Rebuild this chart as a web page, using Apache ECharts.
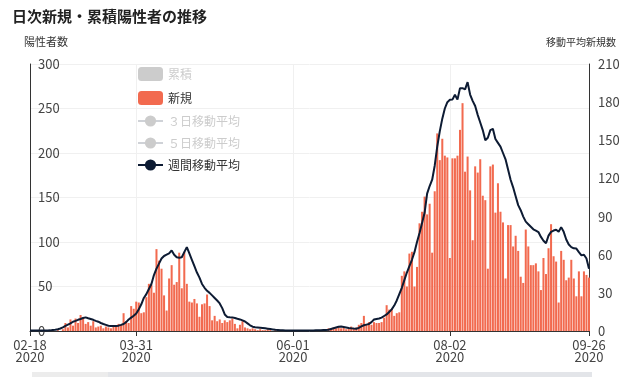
<!DOCTYPE html>
<html>
<head>
<meta charset="utf-8">
<script src="https://cdn.jsdelivr.net/npm/echarts@6/dist/echarts.min.js"></script>
<style>
  html, body { margin: 0; padding: 0; background: #fff; }
  #chart { width: 641px; height: 377px; }
</style>
</head>
<body>
<div id="chart"></div>
<script>
// 日次新規・累積陽性者の推移 (2020-02-18 〜 2020-09-26)
const startDate = '2020-02-18';
const dayCount = 222;
const labelDates = ['2020-02-18', '2020-03-31', '2020-06-01', '2020-08-02', '2020-09-26'];

const leftTicks = [0, 300, 50];   // min, max, interval
const rightTicks = [0, 210, 30];

// 新規 (left axis)
const newCases = [
  0, 0, 0, 0, 0, 0, 0, 0, 0, 1, 0, 1, 0,
  2, 9, 4, 13, 6, 14, 9, 18, 15, 8,
  10, 6, 11, 4, 5, 6, 3, 5, 4, 3,
  5, 6, 8, 7, 20, 11, 9, 28, 25, 33,
  32, 20, 21, 38, 53, 52, 43, 92, 79, 70,
  40, 23, 59, 74, 52, 55, 88, 48, 89, 53,
  33, 32, 36, 31, 16, 30, 31, 41, 28, 12,
  17, 11, 13, 9, 12, 10, 12, 14, 8, 3,
  7, 11, 4, 3, 2, 3, 2, 1, 2, 1,
  1, 2, 1, 0, 1, 0, 0, 1, 0, 0,
  0, 1, 0, 0, 0, 1, 0, 0, 0, 0,
  1, 0, 0, 1, 0, 3, 2, 4, 3, 4,
  3, 4, 2, 3, 5, 3, 4, 7, 9, 17,
  7, 10, 7, 10, 9, 9, 10, 15, 29, 24,
  25, 17, 20, 21, 62, 67, 50, 87, 89, 50,
  72, 121, 134, 151, 131, 143, 88, 157, 222, 192,
  216, 197, 195, 82, 194, 194, 197, 226, 256, 179,
  196, 158, 102, 185, 178, 193, 152, 147, 70, 185,
  187, 133, 166, 134, 122, 59, 119, 119, 95, 107,
  90, 61, 54, 114, 95, 74, 74, 76, 67, 46,
  82, 64, 93, 120, 84, 78, 32, 90, 80, 57,
  60, 80, 59, 39, 67, 39, 67, 63, 60
];

// 週間移動平均 (right axis)
const weeklyAvg = [
  0.3, 0.3, 0.3, 0.3, 0.3, 0.3, 0.3, 0.4, 0.5, 0.8,
  1.0, 1.4, 2.0, 2.8, 4.0, 5.0, 6.0, 7.3, 8.0, 8.8,
  9.4, 10.2, 10.7, 10.0, 9.4, 8.8, 8.0, 7.3, 6.3, 5.5,
  4.8, 4.1, 3.9, 3.9, 3.9, 4.2, 4.8, 5.5, 7.0, 9.0,
  10.5, 12.0, 13.8, 17, 21, 26, 29, 33, 37, 44,
  49, 53, 57, 59, 60, 61, 63.4, 60, 58, 57.7,
  58, 62, 66, 61, 56, 51, 46, 42, 37, 34,
  31.6, 30, 28, 26, 24, 21.7, 18, 13, 11, 10.8,
  10.7, 10.2, 9.6, 9.1, 8.3, 7.5, 6, 4.5, 3.4, 3,
  2.8, 2.6, 2.4, 2.1, 1.8, 1.5, 1.2, 0.9, 0.8, 0.6,
  0.5, 0.4, 0.4, 0.4, 0.4, 0.4, 0.4, 0.4, 0.4, 0.4,
  0.4, 0.4, 0.4, 0.5, 0.5, 0.6, 0.7, 0.8, 1.0, 1.6,
  2.2, 2.8, 3.4, 3.6, 3.2, 2.8, 2.4, 2.1, 1.9, 1.8,
  2.5, 3.6, 4.5, 5.0, 5.5, 7.0, 9.0, 9.5, 9.8, 10.5,
  11.8, 13, 15, 17, 20, 24, 29, 34, 40, 46,
  51, 56, 62, 70, 77, 85, 93, 108, 114, 119,
  130, 145, 157, 167, 175, 180, 181.8, 182, 185.8, 182,
  191, 191, 190, 195.7, 186, 181, 177, 170, 164, 158,
  150, 152, 158, 159, 151, 148, 145, 140, 135, 127,
  119, 113, 106, 99, 95, 90, 86, 84, 82, 80,
  79, 77.8, 74, 71, 69, 75, 78, 79, 79.6, 78,
  81.7, 78, 72, 68, 66, 65, 64.8, 62, 59.5, 60,
  57, 49
];

const legendNames = ['累積', '新規', '３日移動平均', '５日移動平均', '週間移動平均'];

const colors = {
  bar: '#f26a4f',
  line: '#0d1b33',
  ink: '#222',
  label: '#444',
  axis: '#333',
  grid: '#f0f0f0'
};

function buildDates() {
  const out = [];
  const d = new Date(startDate + 'T00:00:00Z');
  for (let i = 0; i < dayCount; i++) {
    out.push(d.toISOString().slice(0, 10));
    d.setUTCDate(d.getUTCDate() + 1);
  }
  return out;
}

const dates = buildDates();
const showAt = (index, value) => labelDates.indexOf(dates[index]) !== -1;

const chart = echarts.init(document.getElementById('chart'), null, { renderer: 'canvas' });

chart.setOption({
  animation: false,
  textStyle: { fontFamily: '"Noto Sans CJK JP", "Noto Sans", sans-serif' },
  title: [
    {
      text: '日次新規・累積陽性者の推移',
      left: 12, top: 9, padding: 0,
      textStyle: { fontSize: 15, fontWeight: 'bold', color: colors.ink }
    },
    {
      text: '陽性者数',
      left: 24, top: 36, padding: 0,
      textStyle: { fontSize: 11, fontWeight: 'normal', color: colors.axis }
    },
    {
      text: '移動平均新規数',
      left: 546, top: 37, padding: 0,
      textStyle: { fontSize: 10, fontWeight: 'normal', color: colors.axis }
    }
  ],
  legend: {
    data: legendNames,
    orient: 'vertical',
    left: 137, top: 67, padding: 0,
    itemWidth: 25, itemHeight: 14,
    itemGap: 10,
    textStyle: { fontSize: 12, color: '#333' },
    inactiveColor: '#ccc',
    selected: { '累積': false, '３日移動平均': false, '５日移動平均': false }
  },
  grid: { left: 30, right: 52, top: 64, bottom: 46 },
  xAxis: {
    type: 'category',
    data: dates,
    boundaryGap: false,
    axisLine: { lineStyle: { color: colors.axis } },
    axisTick: { show: true, length: 5, interval: showAt, lineStyle: { color: colors.axis } },
    axisLabel: {
      interval: showAt,
      color: colors.label,
      fontSize: 13,
      lineHeight: 12,
      margin: 8,
      formatter: v => v.slice(5) + '\n' + v.slice(0, 4)
    },
    splitLine: { show: true, interval: showAt, lineStyle: { color: colors.grid } }
  },
  yAxis: [
    {
      type: 'value',
      min: leftTicks[0], max: leftTicks[1], interval: leftTicks[2],
      axisLine: { show: true, lineStyle: { color: colors.axis } },
      axisTick: { show: false },
      axisLabel: { inside: true, margin: 8, color: colors.label, fontSize: 13 },
      splitLine: { lineStyle: { color: colors.grid } }
    },
    {
      type: 'value',
      min: rightTicks[0], max: rightTicks[1], interval: rightTicks[2],
      axisLine: { show: true, lineStyle: { color: colors.axis } },
      axisTick: { show: false },
      axisLabel: { margin: 9, color: colors.label, fontSize: 13 },
      splitLine: { show: false }
    }
  ],
  graphic: [
    { type: 'rect', shape: { x: 32, y: 372, width: 76, height: 8 }, style: { fill: '#ececec' } },
    { type: 'rect', shape: { x: 108, y: 372, width: 484, height: 8 }, style: { fill: '#e3e5e9' } }
  ],
  series: [
    {
      name: '累積',
      type: 'bar',
      data: [],
      itemStyle: { color: '#c8c8c8', borderRadius: 3 }
    },
    {
      name: '新規',
      type: 'bar',
      data: newCases,
      barWidth: '80%',
      itemStyle: { color: colors.bar, borderRadius: 0 }
    },
    {
      name: '３日移動平均',
      type: 'line',
      yAxisIndex: 1,
      data: [],
      symbol: 'circle',
      symbolSize: 9,
      itemStyle: { color: '#9aa' }
    },
    {
      name: '５日移動平均',
      type: 'line',
      yAxisIndex: 1,
      data: [],
      symbol: 'circle',
      symbolSize: 9,
      itemStyle: { color: '#99a' }
    },
    {
      name: '週間移動平均',
      type: 'line',
      yAxisIndex: 1,
      data: weeklyAvg,
      symbol: 'circle',
      symbolSize: 9,
      showSymbol: false,
      lineStyle: { color: colors.line, width: 2 },
      itemStyle: { color: colors.line }
    }
  ]
});
</script>
</body>
</html>
